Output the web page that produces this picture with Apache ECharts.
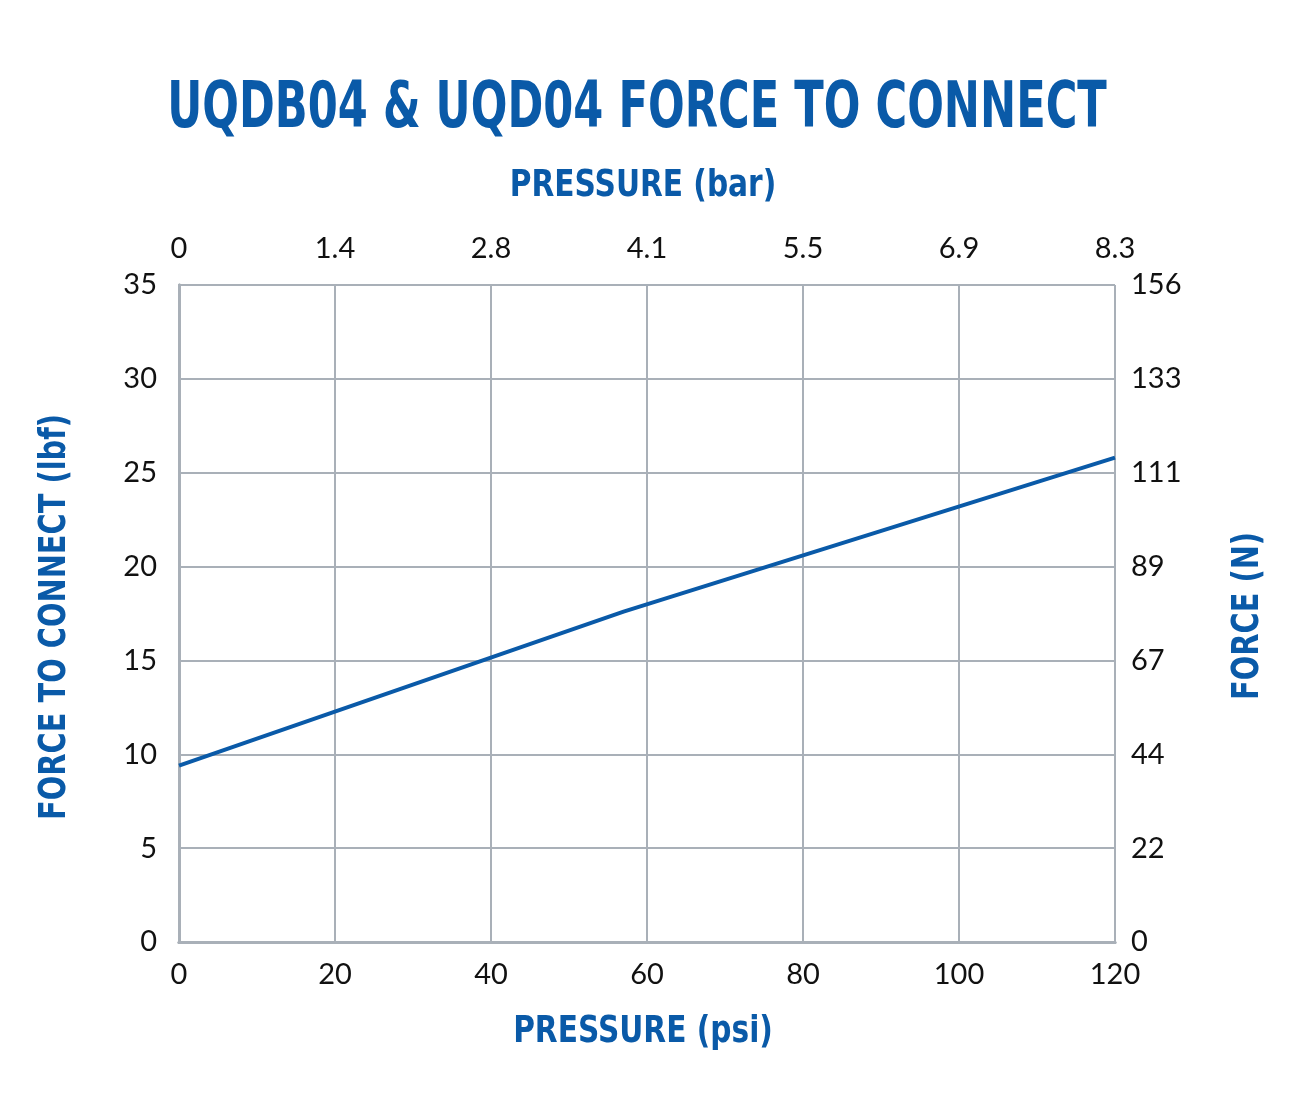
<!DOCTYPE html>
<html><head><meta charset="utf-8">
<script src="https://cdn.jsdelivr.net/npm/echarts@6/dist/echarts.min.js"></script>
<style>html,body{margin:0;background:#fff}#c{width:1295px;height:1116px}</style>
</head><body><div id="c"></div>
<script>
const psiTicks=[0,20,40,60,80,100,120];
const barLabels=['0','1.4','2.8','4.1','5.5','6.9','8.3'];
const newtonLabels=['0','22','44','67','89','111','133','156'];
const psi=[0,57,120];
const force=[9.4,17.6,25.8];
const blue='#0a5aa8', grid='#a9b0b8';
const tf="'DejaVu Sans',sans-serif";
const lab={color:'#111',fontSize:29,fontFamily:'Lato, sans-serif'};
const ch=echarts.init(document.getElementById('c'));
function t(text,x,y,size,sx,rot){return {type:'text',x:x,y:y,rotation:rot||0,scaleX:sx,style:{text:text,fill:blue,font:'bold '+size+'px '+tf,align:'center',verticalAlign:'middle'}};}
ch.setOption({
 graphic:[
  t('UQDB04 & UQD04 FORCE TO CONNECT',637,110,64,0.675),
  t('PRESSURE (bar)',643,186,38,0.78),
  t('PRESSURE (psi)',643,1032,38,0.78),
  t('FORCE TO CONNECT (lbf)',55,617,38,0.76,Math.PI/2),
  t('FORCE (N)',1248,616,38,0.76,Math.PI/2)
 ],
 grid:{left:179,right:180,top:285,bottom:174},
 xAxis:[
  {type:'value',min:0,max:120,interval:20,position:'bottom',axisLabel:{...lab,margin:18},axisLine:{lineStyle:{color:grid,width:3}},axisTick:{show:false},splitLine:{lineStyle:{color:grid,width:2}}},
  {type:'value',min:0,max:120,interval:20,position:'top',axisLabel:{...lab,margin:22,formatter:v=>barLabels[psiTicks.indexOf(v)]},axisLine:{lineStyle:{color:grid,width:3}},axisTick:{show:false},splitLine:{show:false}}
 ],
 yAxis:[
  {type:'value',min:0,max:35,interval:5,position:'left',axisLabel:{...lab,margin:22},axisLine:{show:true,lineStyle:{color:grid,width:3}},axisTick:{show:false},splitLine:{lineStyle:{color:grid,width:2}}},
  {type:'value',min:0,max:35,interval:5,position:'right',axisLabel:{...lab,margin:16,formatter:v=>newtonLabels[v/5]},axisLine:{show:true,lineStyle:{color:grid,width:3}},axisTick:{show:false},splitLine:{show:false}}
 ],
 series:[{type:'line',data:psi.map((p,i)=>[p,force[i]]),symbol:'none',lineStyle:{color:blue,width:4}}]
});
</script></body></html>
